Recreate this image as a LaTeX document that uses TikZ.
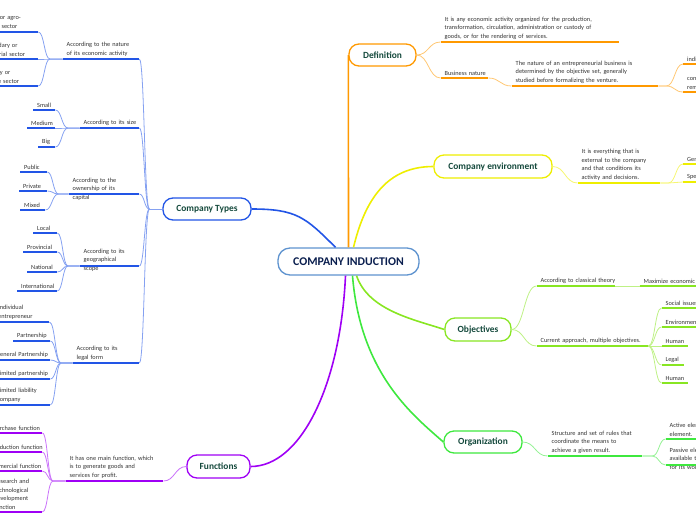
\documentclass[tikz,border=0pt]{standalone}
\usepackage{fontspec}
\setmainfont{Carlito}
\usetikzlibrary{calc}
\definecolor{typesblue}{HTML}{2255E6}
\definecolor{deforange}{HTML}{FF9900}
\definecolor{envyellow}{HTML}{EEEE00}
\definecolor{objlime}{HTML}{88E622}
\definecolor{orggreen}{HTML}{3EE83E}
\definecolor{funpurple}{HTML}{9F00F5}
\definecolor{rootblue}{HTML}{5E93CF}
\definecolor{roottext}{HTML}{0B1F4F}
\definecolor{boxtext}{HTML}{14493C}
\definecolor{leaftext}{HTML}{333333}

\newcommand\linkto[4]{%
  \path ([xshift=#2]#3) coordinate (j) ($(j)!.5!(#4)$) coordinate (m);
  \draw[#1] (#3) -- (j) .. controls (m |- j) and (m |- #4) .. (#4);}
\newcommand\nohyph{\hyphenpenalty=10000 \exhyphenpenalty=10000 }

\begin{document}
\begin{tikzpicture}[x=1pt,y=-1pt,
    topic/.style={anchor=south west,inner xsep=4pt,inner ysep=2.2pt,align=left,
      text=leaftext,font=\fontsize{6.3}{8.6}\selectfont,execute at begin node=\nohyph},
    flat/.style={},
    sunkA/.style={text depth=9.3pt},
    sunkB/.style={text depth=10.3pt},
    mainbox/.style={draw=#1,line width=1.3pt,rounded corners=10pt,fill=white,
      inner sep=0pt,text=boxtext,font=\fontsize{9.4}{11}\selectfont\bfseries},
    uline/.style={draw=#1,line width=1.6pt},
    twig/.style={draw=#1!55,line width=0.8pt},
    limb/.style={draw=#1,line width=1.6pt}]
  \useasboundingbox (0,0) rectangle (696,520);
  \clip (0,0) rectangle (696,520);

  \node[draw=rootblue,line width=1.3pt,rounded corners=12pt,fill=white,minimum width=141pt,
    minimum height=27pt,inner sep=0pt,text=roottext,font=\fontsize{11.8}{13}\selectfont\bfseries]
    (root) at (348.5,261.5) {COMPANY INDUCTION};
  \node[mainbox=typesblue,minimum width=88pt,minimum height=22pt] (types) at (207,209) {Company Types};
  \node[mainbox=deforange,minimum width=67pt,minimum height=22pt] (def) at (382.5,55) {Definition};
  \node[mainbox=envyellow,minimum width=118pt,minimum height=23pt] (env) at (493,166.5) {Company environment};
  \node[mainbox=objlime,minimum width=66pt,minimum height=23pt] (obj) at (478,329.5) {Objectives};
  \node[mainbox=orggreen,minimum width=78pt,minimum height=22pt] (org) at (483,442) {Organization};
  \node[mainbox=funpurple,minimum width=63pt,minimum height=23pt] (fun) at (218.5,466.5) {Functions};

  \draw[limb=typesblue] ([xshift=-13pt]root.north) .. controls +(-30,-30) and +(45,0) .. (types.east);
  \draw[limb=deforange] (root.north) -- (def.west);
  \draw[limb=envyellow] ([xshift=5pt]root.north) .. controls +(12,-50) and +(-45,0) .. (env.west);
  \draw[limb=objlime] ([xshift=8pt]root.south) .. controls +(12,35) and +(-30,-10) .. (obj.west);
  \draw[limb=orggreen] ([xshift=4pt]root.south) .. controls +(8,100) and +(-28,-25) .. (org.west);
  \draw[limb=funpurple] ([xshift=-3pt]root.south) .. controls +(-5,110) and +(50,0) .. (fun.east);

  \coordinate (typesj) at ([xshift=-13pt]types.west);
  \draw[twig=typesblue] (types.west) -- (typesj);

  \foreach \nm/\from/\stub/\xa/\xb/\y/\sty/\col/\txt in {
    nature/typesj/0pt/62.5/139/59/flat/typesblue/{According to the nature\\of its economic activity},
    size/typesj/0pt/79.5/139/128/flat/typesblue/{According~to~its~size},
    owner/typesj/0pt/68.5/139/194/sunkA/typesblue/{According to the\\ownership of its\\capital},
    geo/typesj/0pt/79.5/139/266/sunkB/typesblue/{According to its\\geographical\\scope},
    legal/typesj/0pt/72.5/139/363/flat/typesblue/{According to its\\legal form},
    primary/nature.south west/-12.5pt/-26.5/38/32/flat/typesblue/{Primary or agro-\\pecuaric sector},
    secondary/nature.south west/-12.5pt/-21/38/59/flat/typesblue/{Secondary or\\industrial sector},
    tertiary/nature.south west/-12.5pt/-21/38/86/flat/typesblue/{Tertiary or\\service sector},
    small/size.south west/-11.5pt/33/55/110/flat/typesblue/Small,
    medium/size.south west/-11.5pt/27/55/128/flat/typesblue/Medium,
    big/size.south west/-11.5pt/38/55/147/flat/typesblue/Big,
    public/owner.south west/-10pt/20/47/172/flat/typesblue/Public,
    private/owner.south west/-10pt/19/47/191/flat/typesblue/Private,
    mixed/owner.south west/-10pt/20/45/210/flat/typesblue/Mixed,
    local/geo.south west/-11.5pt/33/57/233/flat/typesblue/Local,
    provincial/geo.south west/-11.5pt/23/57/252/flat/typesblue/Provincial,
    national/geo.south west/-11.5pt/27/57/272/flat/typesblue/National,
    international/geo.south west/-11.5pt/17/57/291/flat/typesblue/International,
    individual/legal.south west/-11.5pt/-6/49/322/flat/typesblue/{Individual\\entrepreneur},
    partnership/legal.south west/-11.5pt/13/50/341/flat/typesblue/Partnership,
    general/legal.south west/-11.5pt/-8/50/360/flat/typesblue/{General~Partnership},
    limited/legal.south west/-11.5pt/-7/50/379/flat/typesblue/{Limited~partnership},
    liability/legal.south west/-11.5pt/-7/50/405/flat/typesblue/{Limited liability\\company},
    purpose/fun.west/0pt/65.5/163/481/flat/funpurple/{It has one main function, which\\is to generate goods and\\services for profit.},
    purchase/purpose.south west/-12.5pt/-11/42/433/flat/funpurple/{Purchase~function},
    production/purpose.south west/-12.5pt/-13/42/452/flat/funpurple/{Production~function},
    commercial/purpose.south west/-12.5pt/-17/42/471/flat/funpurple/{Commercial~function},
    research/purpose.south west/-12.5pt/-10/42/512/flat/funpurple/{Research and\\technological\\development\\function}}{
    \pgfmathsetmacro\w{\xb-\xa-8}
    \node[topic,\sty,text width=\w pt] (\nm) at (\xa,\y) {\txt};
    \draw[uline=\col] (\nm.south west) -- (\nm.south east);
    \linkto{twig=\col}{\stub}{\from}{\nm.south east}
  }

  \foreach \nm/\from/\stub/\xa/\xb/\y/\sty/\col/\txt in {
    meaning/def.east/0pt/440.5/619/42/flat/deforange/{It is any economic activity organized for the production,\\transformation, circulation, administration or custody of\\goods, or for the rendering of services.},
    nature/def.east/0pt/440.5/488/78/flat/deforange/{Business~nature},
    naturetext/nature.south east/0pt/511.5/658/86/flat/deforange/{The nature of an entrepreneurial business is\\determined by the objective set, generally\\studied before formalizing the venture.},
    individualb/naturetext.south east/8pt/683/760/64/flat/deforange/individual,
    continuous/naturetext.south east/8pt/683/760/92/flat/deforange/{continuous and\\remunerated},
    envtext/env.east/0pt/577.5/660/183/flat/envyellow/{It is everything that is\\external to the company\\and that conditions its\\activity and decisions.},
    generalenv/envtext.south east/8pt/683/760/164/flat/envyellow/{General~environment},
    specificenv/envtext.south east/8pt/683/760/182/flat/envyellow/{Specific~environment},
    classical/obj.east/0pt/536.5/615/286/flat/objlime/{According~to~classical~theory},
    maximize/classical.south east/0pt/639.5/760/286/flat/objlime/{Maximize~economic~benefit},
    current/obj.east/0pt/536.5/648/346/flat/objlime/{Current~approach,~multiple~objectives.},
    social/current.south east/0pt/661.5/760/308/flat/objlime/{Social~issues},
    environmental/current.south east/0pt/661.5/760/327/flat/objlime/Environmental,
    human/current.south east/0pt/661.5/688/346/flat/objlime/Human,
    legalobj/current.south east/0pt/661.5/684/365/flat/objlime/Legal,
    humanb/current.south east/0pt/661.5/688/383/flat/objlime/Human,
    structure/org.east/0pt/547.5/642/456/flat/orggreen/{Structure and set of rules that\\coordinate the means to\\achieve a given result.},
    active/structure.south east/10pt/665.5/760/439/flat/orggreen/{Active element: the human\\element.},
    passive/structure.south east/10pt/665.5/760/465/sunkB/orggreen/{Passive element: the resources\\available to the company\\for its work.}}{
    \pgfmathsetmacro\w{\xb-\xa-8}
    \node[topic,\sty,text width=\w pt] (\nm) at (\xa,\y) {\txt};
    \draw[uline=\col] (\nm.south west) -- (\nm.south east);
    \linkto{twig=\col}{\stub}{\from}{\nm.south west}
  }
\end{tikzpicture}
\end{document}
